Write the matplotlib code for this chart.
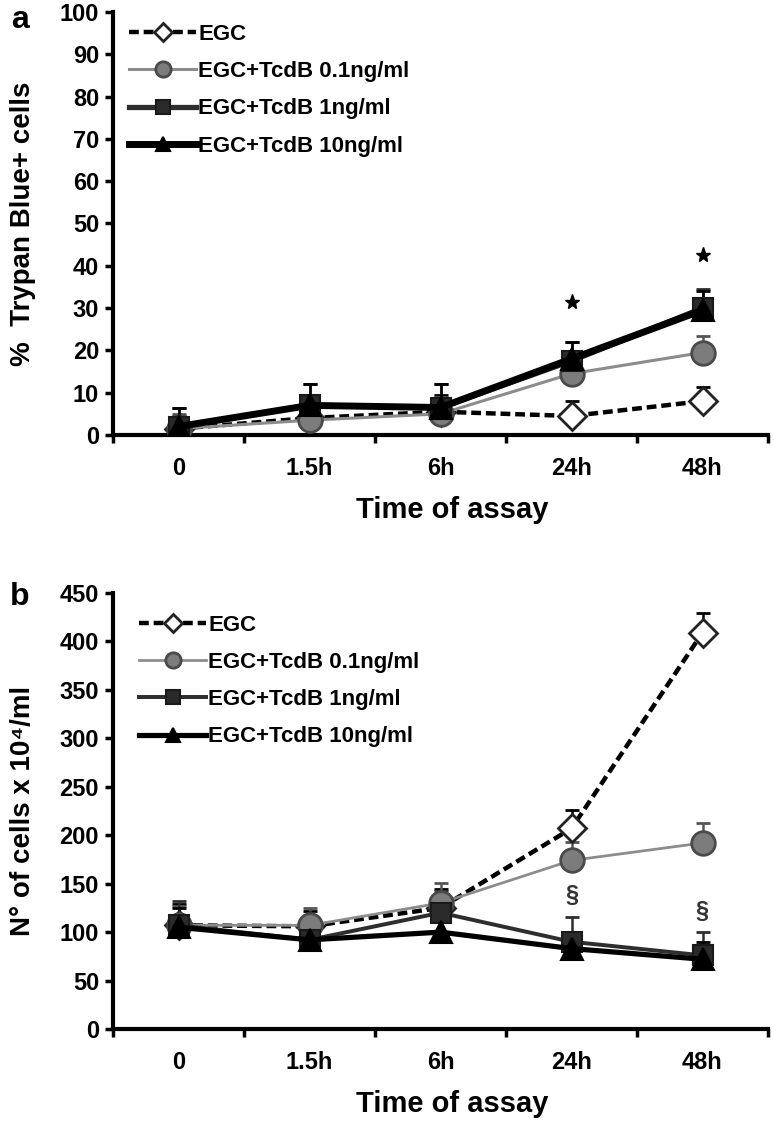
import numpy as np
import matplotlib
matplotlib.use("Agg")
import matplotlib.pyplot as plt
from matplotlib.ticker import FixedLocator

plt.rcParams['font.family'] = ['Liberation Sans', 'DejaVu Sans']
plt.rcParams['font.weight'] = 'bold'
plt.rcParams['axes.labelweight'] = 'bold'

categories = ["0", "1.5h", "6h", "24h", "48h"]
series_names = ["EGC", "EGC+TcdB 0.1ng/ml", "EGC+TcdB 1ng/ml", "EGC+TcdB 10ng/ml"]

# Panel a: % Trypan Blue+ cells
a_egc = [1.5, 4.0, 5.5, 4.5, 8.0]
a_01 = [1.5, 3.5, 5.0, 14.5, 19.5]
a_1 = [2.0, 7.0, 6.5, 17.5, 30.0]
a_10 = [2.0, 7.0, 6.5, 18.0, 29.5]
a_egc_err = [3.0, 3.0, 4.0, 3.5, 3.3]
a_01_err = [3.5, 3.5, 4.0, 3.5, 4.0]
a_1_err = [4.5, 5.0, 5.5, 4.5, 4.5]
a_10_err = [4.5, 5.0, 5.5, 4.0, 4.5]
a_star_y = [None, None, None, 31.5, 42.5]

# Panel b: N° of cells x 10^4/ml
b_egc = [107, 106, 125, 207, 409]
b_01 = [107, 107, 130, 174, 192]
b_1 = [107, 92, 120, 90, 76]
b_10 = [105, 92, 100, 83, 72]
b_egc_err = [22, 16, 20, 19, 20]
b_01_err = [20, 18, 21, 19, 21]
b_1_err = [25, 15, 22, 26, 24]
b_10_err = [20, 12, 15, 15, 18]
b_sect_y = [None, None, None, 138, 121]

styles = [
    dict(color='black', ls=(0, (2.2, 1.1)), lw=3.2, marker='D', mfc='white', mec='#222222', ms=14, mew=2.0),
    dict(color='#8c8c8c', ls='-', lw=2.2, marker='o', mfc='#7c7c7c', mec='#4a4a4a', ms=17, mew=2.0),
    dict(color='#2e2e2e', ls='-', lw=3.8, marker='s', mfc='#2a2a2a', mec='#1a1a1a', ms=15, mew=1.5),
    dict(color='black', ls='-', lw=5.0, marker='^', mfc='black', mec='black', ms=16, mew=1.5),
]

fig = plt.figure(figsize=(7.74, 11.22), dpi=100)
W, H = 774, 1122
ax_a = fig.add_axes([113 / W, 1 - 435 / H, 655 / W, 423 / H])
ax_b = fig.add_axes([113 / W, 1 - 1029 / H, 655 / W, 436 / H])

x = np.arange(len(categories))


def draw(ax, data, errs, lw_scales, ymax, ystep, ylabel, legend_anchor, axh):
    handles = []
    for vals, err, st, sc in zip(data, errs, styles, lw_scales):
        st = dict(st)
        st['lw'] = st['lw'] * sc
        ax.errorbar(x, vals, yerr=[np.zeros(len(err)), err], fmt='none',
                    ecolor=st['color'] if st['color'] != '#8c8c8c' else '#555555',
                    elinewidth=1.8, capsize=5, capthick=2.0, zorder=2)
        h, = ax.plot(x, vals, color=st['color'], ls=st['ls'], lw=st['lw'],
                     marker=st['marker'], mfc=st['mfc'], mec=st['mec'],
                     ms=st['ms'], mew=st['mew'], zorder=3)
        handles.append(h)
    ax.set_xlim(-0.5, 4.5)
    ax.set_ylim(0, ymax)
    ax.set_yticks(np.arange(0, ymax + 1, ystep))
    ax.set_xticks(x)
    ax.set_xticklabels(categories)
    ax.xaxis.set_minor_locator(FixedLocator(np.arange(-0.5, 5, 1)))
    ax.tick_params(axis='x', which='major', length=0, labelsize=17, pad=16)
    ax.tick_params(axis='x', which='minor', length=6, width=2.5, direction='out')
    ax.tick_params(axis='y', length=6, width=2.5, labelsize=17, pad=4)
    for lab in ax.get_xticklabels() + ax.get_yticklabels():
        lab.set_fontweight('bold')
    for s in ['top', 'right']:
        ax.spines[s].set_visible(False)
    for s in ['left', 'bottom']:
        ax.spines[s].set_linewidth(3.0)
    ax.set_xlabel("Time of assay", fontsize=21, fontweight='bold')
    ax.xaxis.set_label_coords(0.518, -61 / axh)
    ax.set_ylabel(ylabel, fontsize=20, fontweight='bold')
    ax.yaxis.set_label_coords(-0.118, 0.5)
    leg = ax.legend(handles, series_names, loc='upper left', bbox_to_anchor=legend_anchor,
                    frameon=False, fontsize=16, handlelength=3.0, handletextpad=0.1,
                    labelspacing=0.73, borderpad=0, borderaxespad=0, markerscale=0.65)
    for t in leg.get_texts():
        t.set_fontweight('bold')
    return ax


draw(ax_a, [a_egc, a_01, a_1, a_10], [a_egc_err, a_01_err, a_1_err, a_10_err],
     [1.0, 1.0, 1.0, 1.0], 100, 10, "%  Trypan Blue+ cells", (0.025, 0.972), 423)
draw(ax_b, [b_egc, b_01, b_1, b_10], [b_egc_err, b_01_err, b_1_err, b_10_err],
     [1.0, 0.9, 0.75, 0.75], 450, 50, "N° of cells x 10⁴/ml", (0.04, 0.95), 436)

for xi, yv in zip(x, a_star_y):
    if yv is not None:
        ax_a.plot(xi, yv, marker='*', color='black', ms=11, zorder=4)
for xi, yv in zip(x, b_sect_y):
    if yv is not None:
        ax_b.text(xi, yv, "§", ha='center', va='center', fontsize=17,
                  fontweight='bold', color='#333333')

fig.text(20 / W, 1 - 20 / H, "a", fontsize=23, fontweight='bold', ha='center', va='center')
fig.text(20 / W, 1 - 597 / H, "b", fontsize=23, fontweight='bold', ha='center', va='center')

fig.savefig("out.png", dpi=100)
